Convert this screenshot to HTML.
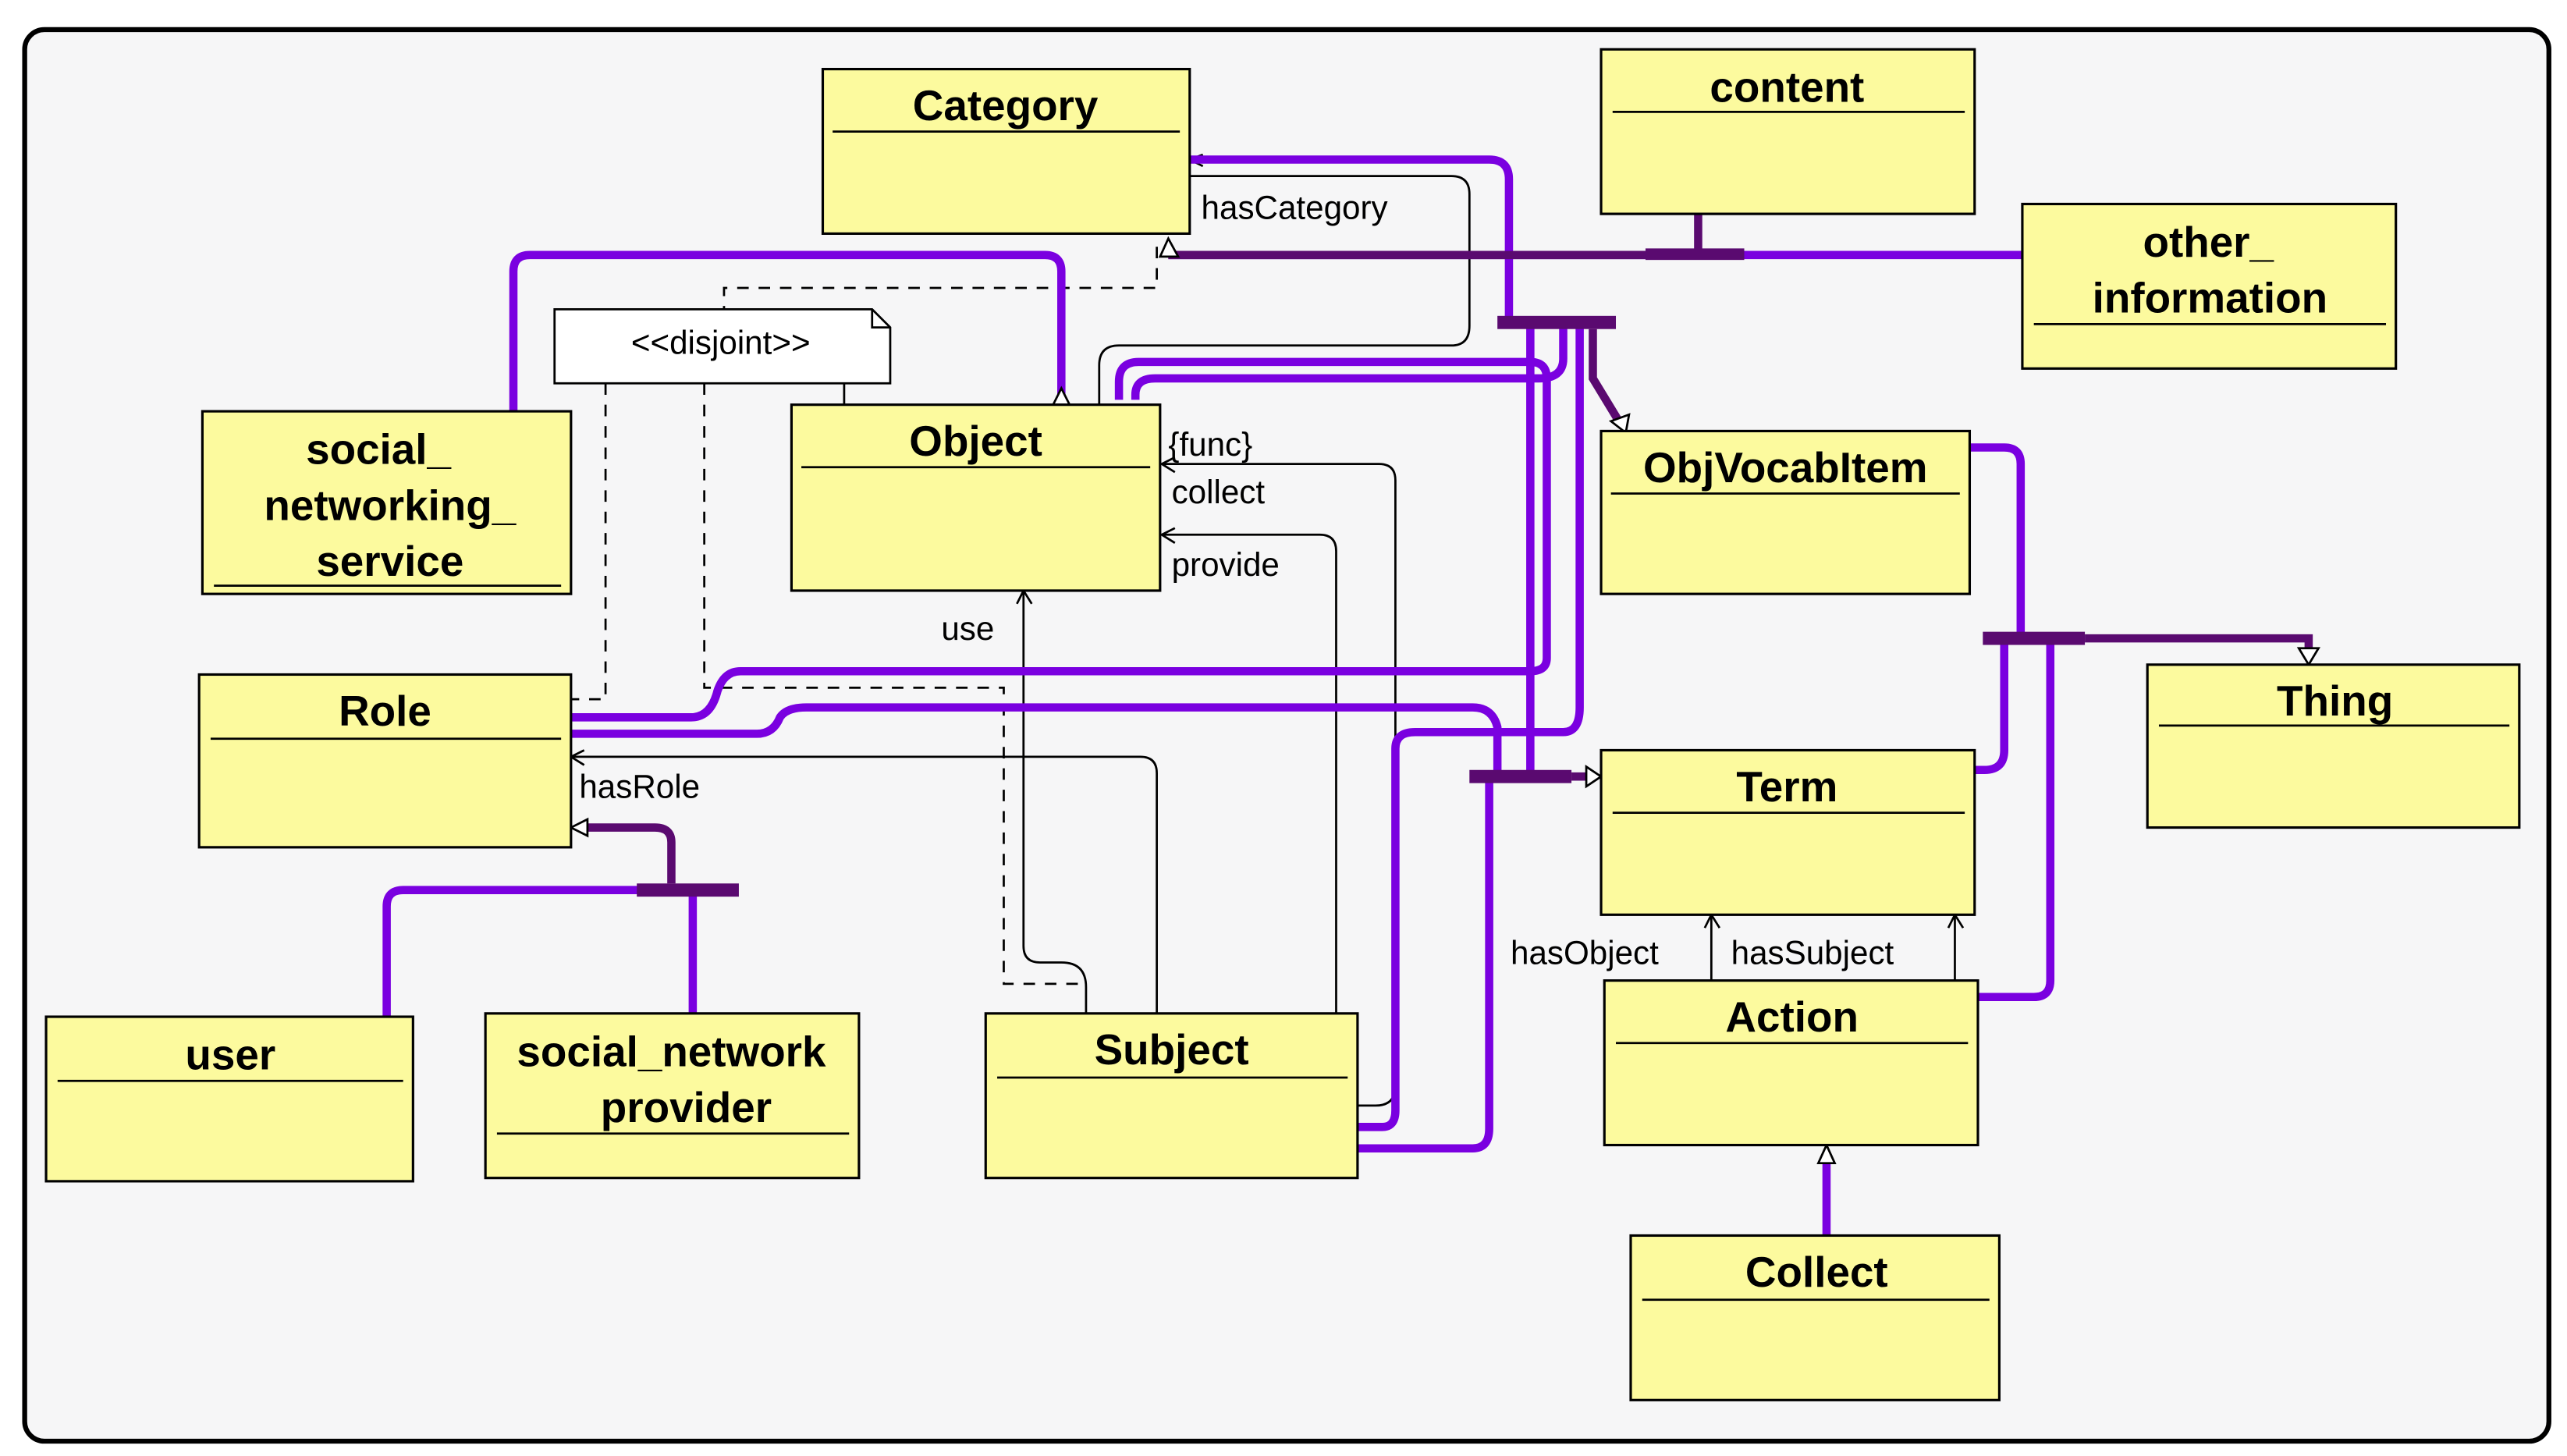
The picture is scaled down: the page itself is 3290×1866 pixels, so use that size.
<!DOCTYPE html>
<html><head><meta charset="utf-8"><style>
html,body{margin:0;padding:0;background:#fff;}
svg{display:block;}
.b{fill:#fcfa9e;stroke:#000;stroke-width:1.5;}
.t{font-family:"Liberation Sans",sans-serif;font-weight:bold;font-size:26px;text-anchor:middle;fill:#000;}
.l{font-family:"Liberation Sans",sans-serif;font-size:20px;fill:#000;}
.p{fill:none;stroke:#7a00e0;stroke-width:5;stroke-linejoin:round;}
.d{fill:none;stroke:#5a0a70;stroke-width:5;}
.k{fill:none;stroke:#000;stroke-width:1.3;}
.ds{fill:none;stroke:#000;stroke-width:1.3;stroke-dasharray:7,6;}
.ha{fill:#fff;stroke:#000;stroke-width:1.3;}
</style></head><body>
<svg width="3290" height="1866" viewBox="0 0 1560 885" preserveAspectRatio="none" xmlns="http://www.w3.org/2000/svg">
<rect x="0" y="0" width="1560" height="885" fill="#fff"/>
<rect x="15" y="18" width="1534" height="858" rx="12" fill="#f6f6f7" stroke="#000" stroke-width="3"/>

<!-- thin black connectors -->
<path class="k" d="M668,246 V222 Q668,210 680,210 H882 Q893,210 893,198 V118 Q893,107 882,107 H723"/>
<path class="k" d="M731,101 L723,97 L731,94"/>
<path class="k" d="M706,282 H838 Q848,282 848,292 V660 Q848,672 836,672 H825"/>
<path class="k" d="M714,278 L706,282 L714,287"/>
<path class="k" d="M706,325 H802 Q812,325 812,335 V616"/>
<path class="k" d="M714,321 L706,325 L714,330"/>
<path class="k" d="M660,616 V600 Q660,585 645,585 H632 Q622,585 622,575 V359"/>
<path class="k" d="M618,367 L622,359 L627,367"/>
<path class="k" d="M347,460 H693 Q703,460 703,470 V616"/>
<path class="k" d="M355,456 L347,460 L355,465"/>
<path class="k" d="M1040,596 V556"/><path class="k" d="M1036,564 L1040,556 L1045,564"/>
<path class="k" d="M1188,596 V556"/><path class="k" d="M1184,564 L1188,556 L1193,564"/>

<!-- dashed -->
<path class="ds" d="M703,150 V175 H440 V188"/>
<path class="ds" d="M368,233 V425 H347"/>
<path class="ds" d="M428,233 V418 H610 V598 H655"/>
<path class="k" d="M513,233 V246"/>

<!-- purple connectors -->
<path class="p" d="M312,250 V165 Q312,155 322,155 H635 Q645,155 645,165 V240"/>
<path class="p" d="M723,97 H905 Q917,97 917,109 V196"/>
<path class="p" d="M680,243 V232 Q680,220 692,220 H930 Q940,220 940,230 V400 Q940,408 930,408 H450 Q440,408 436,420 Q432,436 420,436 H347"/>
<path class="p" d="M690,243 V240 Q690,230 702,230 H935 Q950,230 950,218 V196"/>
<path class="p" d="M347,446 H460 Q470,446 474,436 Q478,430 490,430 H895 Q907,430 910,442 V472"/>
<path class="p" d="M825,685 H840 Q848,685 848,675 V455 Q848,445 860,445 H950 Q960,445 960,430 V196"/>
<path class="p" d="M825,698 H895 Q905,698 905,686 V472"/>
<path class="p" d="M930,196 V472"/>
<path class="p" d="M710,155 H1229"/>
<path class="d" d="M710,155 H1000"/>
<path class="d" d="M1032,130 V152"/>
<rect x="1000" y="151" width="60" height="7" fill="#5a0a70"/>
<rect x="910" y="192" width="72" height="8" fill="#5a0a70"/>
<path class="d" d="M968,200 V230 L985,258"/>
<path fill="#fff" stroke="#000" stroke-width="1.3" d="M979,256 L988,263 L990,252 Z"/>
<rect x="893" y="468" width="62" height="8" fill="#5a0a70"/>
<path class="d" d="M955,472 H965"/>
<path class="ha" d="M964,466 L973,472 L964,478 Z"/>
<path class="ha" d="M705,156 L710,145 L716,156 Z"/>
<path class="ha" d="M640,245 L645,235 L650,245 Z" transform="translate(0,1)"/>

<path class="p" d="M1197,272 H1218 Q1228,272 1228,282 V388"/>
<path class="p" d="M1200,468 H1206 Q1218,468 1218,456 V388"/>
<path class="p" d="M1202,606 H1236 Q1246,606 1246,596 V388"/>
<rect x="1205" y="384" width="62" height="8" fill="#5a0a70"/>
<path class="d" d="M1267,388 H1403 V398"/>
<path class="ha" d="M1397,394 L1403,404 L1409,394 Z"/>

<path class="p" d="M235,618 V551 Q235,541 245,541 H421 V616"/>
<rect x="387" y="537" width="62" height="8" fill="#5a0a70"/>
<path class="d" d="M408,537 V512 Q408,503 398,503 H357"/>
<path class="ha" d="M357,498 L347,503 L357,508 Z"/>

<path class="p" d="M1110,751 V706"/>
<path class="ha" d="M1105,707 L1110,696 L1115,707 Z"/>

<!-- disjoint note -->
<path d="M337,188 H530 L541,199 V233 H337 Z" fill="#fff" stroke="#000" stroke-width="1.3"/>
<path class="k" d="M530,188 V199 H541"/>
<text class="l" x="438" y="215" text-anchor="middle">&lt;&lt;disjoint&gt;&gt;</text>

<!-- boxes -->
<rect class="b" x="500" y="42" width="223" height="100"/><line class="k" x1="506" y1="80" x2="717" y2="80"/><text class="t" x="611" y="73">Category</text>
<rect class="b" x="973" y="30" width="227" height="100"/><line class="k" x1="980" y1="68" x2="1194" y2="68"/><text class="t" x="1086" y="62">content</text>
<rect class="b" x="1229" y="124" width="227" height="100"/><line class="k" x1="1236" y1="197" x2="1450" y2="197"/><text class="t" x="1342" y="156">other_</text><text class="t" x="1343" y="190">information</text>
<rect class="b" x="123" y="250" width="224" height="111"/><line class="k" x1="130" y1="356" x2="341" y2="356"/><text class="t" x="230" y="282">social_</text><text class="t" x="237" y="316">networking_</text><text class="t" x="237" y="350">service</text>
<rect class="b" x="481" y="246" width="224" height="113"/><line class="k" x1="487" y1="284" x2="699" y2="284"/><text class="t" x="593" y="277">Object</text>
<rect class="b" x="973" y="262" width="224" height="99"/><line class="k" x1="979" y1="300" x2="1191" y2="300"/><text class="t" x="1085" y="293">ObjVocabItem</text>
<rect class="b" x="1305" y="404" width="226" height="99"/><line class="k" x1="1312" y1="441" x2="1525" y2="441"/><text class="t" x="1419" y="435">Thing</text>
<rect class="b" x="121" y="410" width="226" height="105"/><line class="k" x1="128" y1="449" x2="341" y2="449"/><text class="t" x="234" y="441">Role</text>
<rect class="b" x="973" y="456" width="227" height="100"/><line class="k" x1="980" y1="494" x2="1194" y2="494"/><text class="t" x="1086" y="487">Term</text>
<rect class="b" x="975" y="596" width="227" height="100"/><line class="k" x1="982" y1="634" x2="1196" y2="634"/><text class="t" x="1089" y="627">Action</text>
<rect class="b" x="28" y="618" width="223" height="100"/><line class="k" x1="35" y1="657" x2="245" y2="657"/><text class="t" x="140" y="650">user</text>
<rect class="b" x="295" y="616" width="227" height="100"/><line class="k" x1="302" y1="689" x2="516" y2="689"/><text class="t" x="408" y="648">social_network</text><text class="t" x="417" y="682">provider</text>
<rect class="b" x="599" y="616" width="226" height="100"/><line class="k" x1="606" y1="655" x2="819" y2="655"/><text class="t" x="712" y="647">Subject</text>
<rect class="b" x="991" y="751" width="224" height="100"/><line class="k" x1="998" y1="790" x2="1209" y2="790"/><text class="t" x="1104" y="782">Collect</text>

<!-- labels -->
<text class="l" x="730" y="133">hasCategory</text>
<text class="l" x="710" y="277">{func}</text>
<text class="l" x="712" y="306">collect</text>
<text class="l" x="712" y="350">provide</text>
<text class="l" x="572" y="389">use</text>
<text class="l" x="352" y="485">hasRole</text>
<text class="l" x="918" y="586">hasObject</text>
<text class="l" x="1052" y="586">hasSubject</text>
</svg>
</body></html>
